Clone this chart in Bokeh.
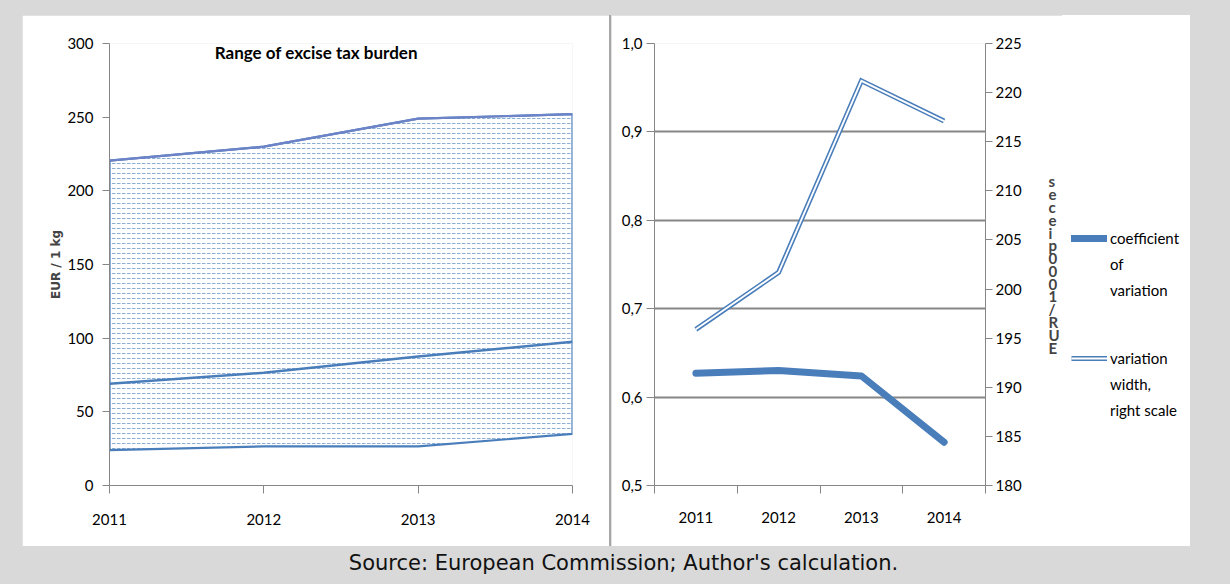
import numpy as np
from bokeh.plotting import figure
from bokeh.models import (Range1d, LinearAxis, FixedTicker, CustomJSTickFormatter,
                          Legend, LegendItem, Label, Spacer)
from bokeh.layouts import row, column
from bokeh.embed import file_html
from bokeh.resources import INLINE

# ---------------- data ----------------
years = [2011, 2012, 2013, 2014]
year_labels = ["2011", "2012", "2013", "2014"]

tax_max = [220.5, 230.0, 249.0, 252.0]
tax_mid = [69.0, 76.5, 87.5, 97.5]
tax_min = [24.0, 26.5, 26.5, 35.0]
left_ticks = [0, 50, 100, 150, 200, 250, 300]

coef_var = [0.627, 0.630, 0.624, 0.549]
var_width = [195.9, 201.7, 221.2, 217.1]
cv_ticks = [0.5, 0.6, 0.7, 0.8, 0.9, 1.0]
width_ticks = [180, 185, 190, 195, 200, 205, 210, 215, 220, 225]

right_unit = "EUR/1000pieces"
legend_cv = ["coefficient", "of", "variation"]
legend_w = ["variation", "width,", "right scale"]

# ---------------- style ----------------
GRAY_BG = "#d9d9d9"
DIVIDER = "#a6a6a6"
AXIS = "#868686"
BLUE = "#4a7ebb"
HATCH = "#4f81bd"
FONT = "Lato"


def style_axis(ax, size="15px"):
    ax.axis_line_color = AXIS
    ax.axis_line_width = 1
    ax.major_tick_line_color = AXIS
    ax.minor_tick_line_color = AXIS
    ax.major_tick_in = 0
    ax.minor_tick_in = 0
    ax.minor_tick_out = 0
    ax.major_label_text_font = FONT
    ax.major_label_text_font_size = size
    ax.major_label_text_color = "#000000"


# ---------------- left chart ----------------
left = figure(width=587, height=531, x_range=Range1d(2011, 2014), y_range=Range1d(0, 300),
              output_backend="svg", toolbar_location=None,
              min_border_left=87, min_border_right=37, min_border_top=28, min_border_bottom=57,
              background_fill_color="white", border_fill_color="white", outline_line_color=None)
left.margin = (15, 0, 0, 22)

left.varea(x=years, y1=tax_min, y2=tax_max, fill_color="white", fill_alpha=0.0,
           hatch_pattern="horizontal_dash", hatch_color=HATCH, hatch_scale=5, hatch_weight=1,
           hatch_alpha=0.65)
xs_poly = list(years) + list(years[::-1])
ys_poly = list(tax_min) + list(tax_max[::-1])
left.patch(xs_poly, ys_poly, fill_color=None, line_color=BLUE, line_width=2.2)
left.line(years, tax_max, line_color="#6d83c7", line_width=2.2)
left.line(years, tax_mid, line_color=BLUE, line_width=2.5)

left.xaxis.ticker = FixedTicker(ticks=years)
left.yaxis.ticker = FixedTicker(ticks=left_ticks)
style_axis(left.xaxis[0], "15px")
style_axis(left.yaxis[0], "15px")
left.xaxis.major_tick_out = 8
left.yaxis.major_tick_out = 7
left.xaxis.major_label_standoff = 20
left.yaxis.major_label_standoff = 9
left.yaxis.axis_label = "EUR / 1 kg"
left.yaxis.axis_label_text_font = "DejaVu Sans"
left.yaxis.axis_label_text_font_style = "bold"
left.yaxis.axis_label_text_font_size = "12px"
left.yaxis.axis_label_standoff = 1
left.xgrid.visible = False
left.ygrid.ticker = FixedTicker(ticks=[300])
left.ygrid.grid_line_color = AXIS

left.add_layout(Label(x=2012.34, y=294, text="Range of excise tax burden",
                      text_font=FONT, text_font_style="bold", text_font_size="17px",
                      text_align="center", text_baseline="middle", text_color="#000000"))

divider = Spacer(width=2, height=531, margin=(15, 0, 0, 0),
                 styles={"background-color": DIVIDER})

# ---------------- right chart ----------------
xpos = list(np.arange(len(years)) + 0.5)

right = figure(width=451, height=531, x_range=Range1d(0, len(years)), y_range=Range1d(0.5, 1.0),
               output_backend="svg", toolbar_location=None,
               min_border_left=43, min_border_right=77, min_border_top=28, min_border_bottom=61,
               background_fill_color="white", border_fill_color="white", outline_line_color=None)
right.margin = (15, 0, 0, 0)
right.extra_y_ranges = {"w": Range1d(180, 225)}

right.ygrid.ticker = FixedTicker(ticks=cv_ticks)
right.ygrid.grid_line_color = AXIS
right.ygrid.grid_line_width = 2
right.xgrid.visible = False

cv_style = dict(line_color=BLUE, line_width=7, line_join="round", line_cap="round")
w_outer = dict(line_color=BLUE, line_width=5, line_join="miter")
w_inner = dict(line_color="white", line_width=1.8, line_join="miter")

right.line(xpos, coef_var, **cv_style)
right.line(xpos, var_width, y_range_name="w", **w_outer)
right.line(xpos, var_width, y_range_name="w", **w_inner)

right.xaxis.ticker = FixedTicker(ticks=xpos, minor_ticks=list(range(len(years) + 1)))
right.xaxis.major_label_overrides = {float(x): lab for x, lab in zip(xpos, year_labels)}
style_axis(right.xaxis[0], "15px")
right.xaxis.major_tick_out = 0
right.xaxis.minor_tick_out = 8
right.xaxis.major_label_standoff = 18

right.yaxis.ticker = FixedTicker(ticks=cv_ticks)
right.yaxis.formatter = CustomJSTickFormatter(code="return tick.toFixed(1).replace('.', ',');")
style_axis(right.yaxis[0], "15px")
right.yaxis.major_tick_out = 8
right.yaxis.major_label_standoff = 4

# right scale; its unit label is shown as a column of upright letters
ax2 = LinearAxis(y_range_name="w", ticker=FixedTicker(ticks=width_ticks))
style_axis(ax2, "15px")
ax2.major_tick_out = 7
ax2.major_label_standoff = 3
ax2.axis_label = "\n".join(right_unit[::-1])
ax2.axis_label_orientation = "horizontal"
ax2.axis_label_text_font = FONT
ax2.axis_label_text_font_style = "bold"
ax2.axis_label_text_font_size = "15px"
ax2.axis_label_text_line_height = 0.71
ax2.axis_label_standoff = 24
right.add_layout(ax2, "right")

# ---------------- legend panel ----------------
leg = figure(width=128, height=531, x_range=Range1d(0, 1), y_range=Range1d(0, 1),
             output_backend="svg", toolbar_location=None, x_axis_location=None, y_axis_location=None,
             min_border=0, background_fill_color=None, border_fill_color=None,
             outline_line_color=None, styles={"background-color": "white"})
leg.margin = (15, 39, 0, 0)
leg.grid.visible = False
g_cv = leg.line([np.nan], [np.nan], **cv_style)
g_w1 = leg.line([np.nan], [np.nan], **w_outer)
g_w2 = leg.line([np.nan], [np.nan], **w_inner)


def make_legend(lines, renderers, loc):
    items = [LegendItem(label=lines[0], renderers=renderers)]
    items += [LegendItem(label=t, renderers=[]) for t in lines[1:]]
    return Legend(items=items, location=loc, label_text_font=FONT, label_text_font_size="15px",
                  label_text_color="#000000", glyph_width=36, glyph_height=26, label_height=26,
                  label_standoff=3, padding=0, margin=0, spacing=0,
                  border_line_color=None, background_fill_alpha=0.0)


leg.add_layout(make_legend(legend_cv, [g_cv], (9, 182)))
leg.add_layout(make_legend(legend_w, [g_w1, g_w2], (9, 62)))

# ---------------- caption ----------------
cap = figure(width=1230, height=38, x_range=Range1d(0, 1230), y_range=Range1d(0, 38),
             output_backend="svg", toolbar_location=None, x_axis_location=None, y_axis_location=None,
             min_border=0, background_fill_color=GRAY_BG, border_fill_color=GRAY_BG,
             outline_line_color=None)
cap.grid.visible = False
cap.add_layout(Label(x=623, y=22, text="Source: European Commission; Author's calculation.",
                     text_font="DejaVu Sans", text_font_size="21px", text_align="center",
                     text_baseline="middle", text_color="#111111"))

page = column(row(left, divider, right, leg, spacing=0), cap, spacing=0,
              styles={"background-color": GRAY_BG})

open("out.html", "w").write(file_html(page, INLINE))
